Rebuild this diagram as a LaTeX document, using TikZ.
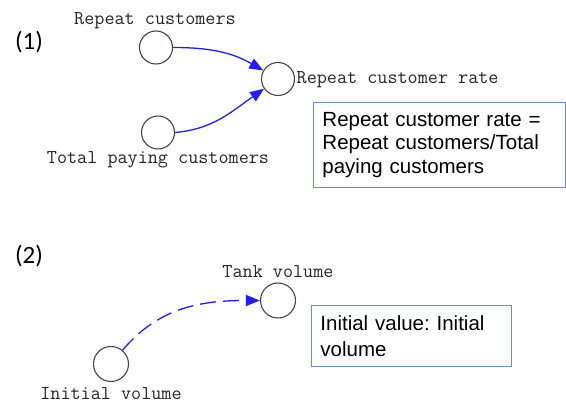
\documentclass[tikz,border=0pt]{standalone}
\usepackage{fontspec}
\setmainfont{Liberation Sans}
\newfontfamily\tagfont{Carlito}
\usetikzlibrary{arrows.meta}
\definecolor{linkblue}{RGB}{30,30,245}
\definecolor{boxedge}{RGB}{110,140,190}
\definecolor{ringgray}{RGB}{70,70,70}
\frenchspacing
\tikzset{
  var/.style={circle, draw=ringgray, line width=1.1pt, minimum size=33pt, inner sep=0pt},
  varlabel/.style={font=\ttfamily\fontsize{19.6}{21}\selectfont, inner sep=0pt, text=black!85},
  tag/.style={font=\tagfont\fontsize{25}{28}\selectfont, inner sep=0pt},
  note/.style={draw=boxedge, line width=0.9pt, align=left, anchor=north west,
    font=\fontsize{20.5}{23.3}\selectfont, inner xsep=9pt, inner ysep=5pt},
  link/.style={draw=linkblue, line width=1.3pt, -{Triangle[length=14pt,width=11pt]}},
}
\begin{document}
\begin{tikzpicture}[x=1pt,y=-1pt]
\useasboundingbox (0,0) rectangle (566,403);

% (1) repeat customer rate
\node[tag] (t1) at (29,42.5) {(1)};
\node[var] (rc) at (156,47.5) {};
\node[var] (tp) at (158,132.5) {};
\node[var] (rate) at (278,79) {};
\node[varlabel] (rcl) at (155,20.5) {Repeat customers};
\node[varlabel] (tpl) at (158,159.5) {Total paying customers};
\node[varlabel, anchor=west] (ratel) at (296.5,80) {Repeat customer rate};
\draw[link] (rc.east) to[out=0,in=150] (rate.150);
\draw[link] (tp.east) to[out=5,in=215] (rate.215);
\node[note, minimum width=252pt, minimum height=85pt, text width=234pt] (n1) at (313,102)
  {Repeat customer rate =\\Repeat customers/Total\\paying customers};

% (2) tank volume
\node[tag] (t2) at (29,256) {(2)};
\node[var, minimum size=35pt] (tank) at (278,300.5) {};
\node[var, minimum size=35pt] (init) at (111,364) {};
\node[varlabel] (tankl) at (278,271.5) {Tank volume};
\node[varlabel] (initl) at (111,394) {Initial volume};
\draw[link, dash pattern=on 16pt off 7pt] (init.50) to[out=50,in=180] (tank.west);
\node[note, minimum width=200pt, minimum height=61pt, text width=182pt,
  font=\fontsize{20.5}{25.7}\selectfont] (n2) at (311,305)
  {Initial value: Initial\\volume};
\end{tikzpicture}
\end{document}
